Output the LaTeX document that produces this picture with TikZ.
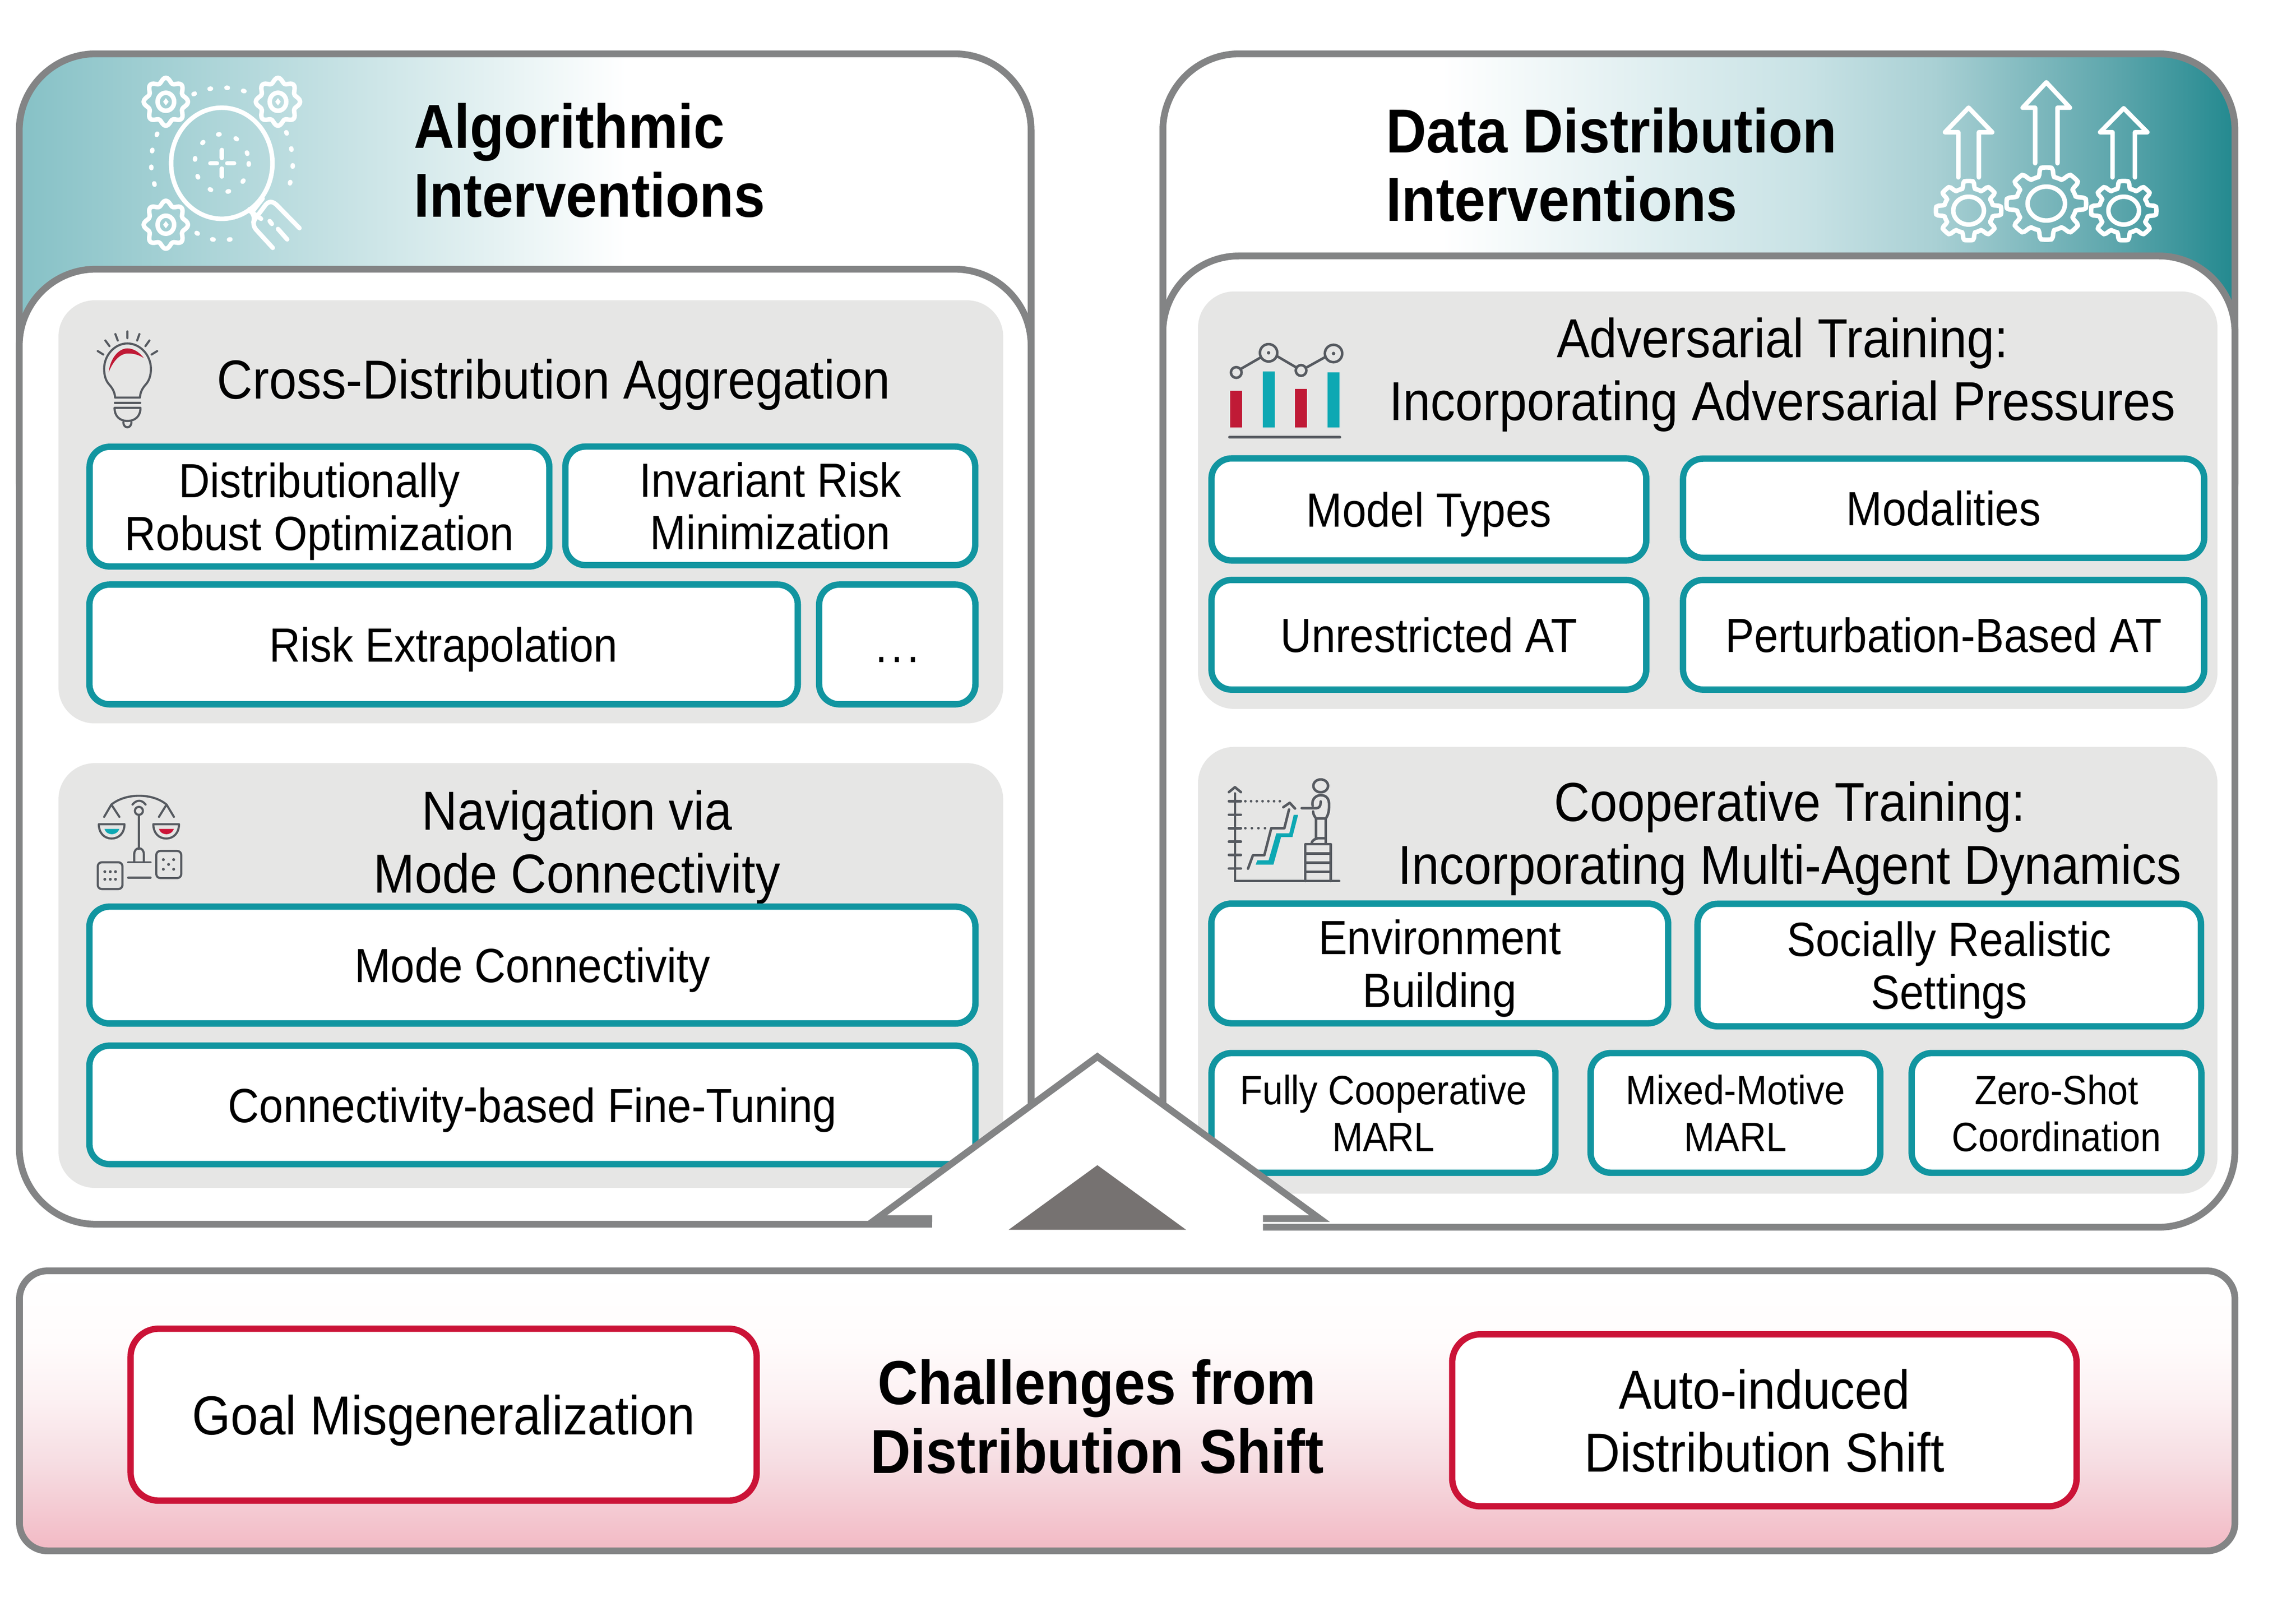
\documentclass[tikz,border=0pt]{standalone}
\usepackage{fontspec}
\setmainfont{Liberation Sans}[FakeStretch=0.9]
\usepackage{tikz}

\definecolor{linegray}{HTML}{838485}
\definecolor{boxgray}{HTML}{E6E6E5}
\definecolor{boxteal}{HTML}{1195A0}
\definecolor{boxred}{HTML}{CB1337}
\definecolor{icongray}{HTML}{565A60}
\definecolor{iconteal}{HTML}{0DA8B3}
\definecolor{iconred}{HTML}{C01A36}
\definecolor{housegray}{HTML}{767271}
\definecolor{headA}{HTML}{86C1C6}
\definecolor{headB}{HTML}{C8E2E5}
\definecolor{headC}{HTML}{A9D0D4}
\definecolor{headD}{HTML}{5BA5AB}
\definecolor{headE}{HTML}{23898F}
\definecolor{footA}{HTML}{F2B9C4}
\definecolor{footB}{HTML}{F6DDE2}
\definecolor{footC}{HTML}{FCF0F2}
\definecolor{footD}{HTML}{FFFCFC}

\pgfdeclarehorizontalshading{headleft}{100bp}{color(0bp)=(headA); color(25bp)=(headA); color(55bp)=(white); color(100bp)=(white)}
\pgfdeclarehorizontalshading{headright}{100bp}{color(0bp)=(white); color(38bp)=(white); color(55bp)=(headB); color(61bp)=(headC); color(69.6bp)=(headD); color(75bp)=(headE); color(100bp)=(headE)}
\pgfdeclareverticalshading{footpink}{100bp}{color(0bp)=(footA); color(25bp)=(footA); color(40.6bp)=(footB); color(51.5bp)=(footC); color(62.5bp)=(footD); color(75bp)=(white); color(100bp)=(white)}

\newcommand{\flowercog}[3]{
  \draw [headicon] plot [domain=0:360, samples=73, smooth] ({#1+72*(.9+.1*cos(8*\x))*cos(\x)},{#2+85*(.9+.1*cos(8*\x))*sin(\x)}) -- cycle;
  \draw [headicon] (#1,#2) circle [x radius=27, y radius=32];
  \fill [white] (#1,#2-13) -- (#1+9,#2) -- (#1,#2+13) -- (#1-9,#2) -- cycle;
}
\newcommand{\toothcog}[3]{
  \draw [headicon] plot [domain=0:360, samples=145] ({#1+#3*(.88+.12*min(1,max(-1,3*cos(8*\x))))*cos(\x)},{#2+#3*(.88+.12*min(1,max(-1,3*cos(8*\x))))*sin(\x)}) -- cycle;
  \draw [headicon] (#1,#2) circle [radius=#3*.47];
}

\begin{document}
\begin{tikzpicture}
\tikzset{ inner sep=0pt, outer sep=0pt,
  panel/.style={draw=linegray, line width=4.8pt, rounded corners=1.9cm},
  graybox/.style={fill=boxgray, rounded corners=.9cm},
  tealbox/.style={draw=boxteal, fill=white, line width=4.5pt, rounded corners=.5cm, align=center, text depth=-3.5pt, font=\fontsize{34}{37.3}\selectfont},
  smallbox/.style={tealbox, font=\fontsize{29}{33.2}\selectfont},
  redbox/.style={draw=boxred, fill=white, line width=4.5pt, rounded corners=.7cm, align=center, text depth=-5pt, font=\fontsize{38.9}{44.5}\selectfont},
  head/.style={align=left, anchor=west, font=\bfseries\fontsize{44}{48.7}\selectfont},
  subhead/.style={align=center, font=\fontsize{38.9}{44.5}\selectfont},
  headicon/.style={draw=white, line width=3.2pt, line cap=round, line join=round},
  icon/.style={draw=icongray, line width=1.5pt, line cap=round, line join=round},
}
\useasboundingbox (0,0) rectangle (57.14,39.87);

% upper panels
\draw [panel, shading=headleft] (0.48,38.53) rectangle (25.66,26);
\draw [panel, shading=headright] (28.94,38.53) rectangle (55.62,26);
\draw [panel, fill=white] (0.48,33.17) rectangle (25.66,9.40);
\draw [panel, fill=white] (28.94,33.50) rectangle (55.62,9.325);

\node [head] (algo) at (10.30,35.88) {Algorithmic\\Interventions};
\node [head] (data) at (34.50,35.77) {Data Distribution\\Interventions};

% gray groups
\node [graybox, minimum width=23.51cm, minimum height=10.53cm] (crossbg) at (13.21,27.13) {};
\node [graybox, minimum width=23.51cm, minimum height=10.57cm] (navbg) at (13.21,15.59) {};
\node [graybox, minimum width=25.37cm, minimum height=10.39cm] (advbg) at (42.50,27.42) {};
\node [graybox, minimum width=25.37cm, minimum height=11.12cm] (coopbg) at (42.50,15.72) {};

\node [subhead] (cross) at (13.78,30.30) {Cross-Distribution Aggregation};
\node [subhead] (nav) at (14.36,18.78) {Navigation via\\Mode Connectivity};
\node [subhead] (adv) at (44.36,30.54) {Adversarial Training:\\Incorporating Adversarial Pressures};
\node [subhead] (coop) at (44.54,19.00) {Cooperative Training:\\Incorporating Multi-Agent Dynamics};

\node [tealbox, minimum width=11.44cm, minimum height=2.98cm] (dro) at (7.95,27.26) {Distributionally\\Robust Optimization};
\node [tealbox, minimum width=10.20cm, minimum height=2.95cm] (irm) at (19.17,27.28) {Invariant Risk\\Minimization};
\node [tealbox, minimum width=17.63cm, minimum height=2.98cm] (risk) at (11.04,23.83) {Risk Extrapolation};
\node [tealbox, minimum width=3.89cm, minimum height=2.98cm] (more) at (22.33,23.83) {\rule{0pt}{.75em}.\hspace{.08em}.\hspace{.08em}.};
\node [tealbox, minimum width=22.05cm, minimum height=2.91cm] (mode) at (13.25,15.85) {Mode Connectivity};
\node [tealbox, minimum width=22.05cm, minimum height=2.95cm] (fine) at (13.25,12.37) {Connectivity-based Fine-Tuning};

\node [tealbox, minimum width=10.82cm, minimum height=2.54cm] (model) at (35.56,27.19) {Model Types};
\node [tealbox, minimum width=12.97cm, minimum height=2.47cm] (modal) at (48.37,27.22) {Modalities};
\node [tealbox, minimum width=10.82cm, minimum height=2.73cm] (unres) at (35.56,24.07) {Unrestricted AT};
\node [tealbox, minimum width=12.97cm, minimum height=2.73cm] (pert) at (48.37,24.07) {Perturbation-Based AT};
\node [tealbox, minimum width=11.37cm, minimum height=2.98cm] (env) at (35.83,15.89) {Environment\\Building};
\node [tealbox, minimum width=12.53cm, minimum height=3.05cm] (social) at (48.51,15.85) {Socially Realistic\\Settings};
\node [smallbox, minimum width=8.56cm, minimum height=2.98cm] (fully) at (34.43,12.17) {Fully Cooperative\\MARL};
\node [smallbox, minimum width=7.21cm, minimum height=2.98cm] (mixed) at (43.19,12.17) {Mixed-Motive\\MARL};
\node [smallbox, minimum width=7.21cm, minimum height=2.98cm] (zero) at (51.18,12.17) {Zero-Shot\\Coordination};

% house
\coordinate (hl) at (21.82,9.54);
\coordinate (hr) at (32.84,9.54);
\coordinate (ha) at (27.31,13.57);
\fill [white] (hl) -- (ha) -- (hr) -- (31.43,9.54) -- (31.43,9.10) -- (23.20,9.10) -- (23.20,9.54) -- cycle;
\draw [draw=linegray, line width=4.8pt] (23.20,9.54) -- (hl) -- (ha) -- (hr) -- (31.43,9.54);
\fill [housegray] (25.10,9.26) -- (27.31,10.87) -- (29.52,9.26) -- cycle;

% lower panel
\draw [draw=linegray, line width=4.8pt, rounded corners=.7cm, shading=footpink] (0.485,8.24) rectangle (55.62,1.27);
\node [redbox, minimum width=15.58cm, minimum height=4.28cm] (goal) at (11.04,4.66) {Goal Misgeneralization};
\node [redbox, minimum width=15.54cm, minimum height=4.28cm] (auto) at (43.91,4.52) {Auto-induced\\Distribution Shift};
\node [align=center, font=\bfseries\fontsize{44}{48.7}\selectfont] (chall) at (27.30,4.61) {Challenges from\\Distribution Shift};

% magnifier
\begin{scope}[shift={(0,39.07)}, x=0.00765cm, y=-0.00702cm]
\draw [headicon] (722,465) circle [x radius=165, y radius=197];
\draw [headicon, dash pattern=on 1pt off 12pt] (722,465) circle [x radius=88, y radius=103];
\draw [headicon] (722,418) -- (722,446) (722,484) -- (722,512) (685,465) -- (706,465) (740,465) -- (762,465);
\draw [headicon, dash pattern=on 1pt off 11pt] (630,220) .. controls (690,190) and (750,190) .. (810,215);
\draw [headicon, dash pattern=on 1pt off 11pt] (512,360) .. controls (485,430) and (485,500) .. (515,575);
\draw [headicon, dash pattern=on 1pt off 11pt] (932,355) .. controls (960,430) and (960,500) .. (933,570);
\draw [headicon, dash pattern=on 1pt off 11pt] (640,712) .. controls (690,745) and (740,745) .. (785,722);
\draw [headicon] (975,695) -- (900,612) .. controls (885,598) and (875,600) .. (865,612) -- (832,660) .. controls (822,675) and (825,690) .. (835,702) -- (888,765);
\draw [headicon] (878,670) -- (885,680) (905,698) -- (935,735) (815,635) -- (850,662) (855,590) -- (825,632) (812,628) .. controls (825,645) and (830,655) .. (825,675);
\flowercog{540}{247}{0}
\flowercog{905}{247}{0}
\flowercog{540}{683}{0}
\end{scope}

% arrows and cogs
\begin{scope}[shift={(45,39.07)}, x=0.00774cm, y=-0.00702cm]
\draw [headicon] (483,515) -- (483,355) -- (440,355) -- (516,268) -- (592,355) -- (549,355) -- (549,515);
\draw [headicon] (730,465) -- (730,268) -- (690,268) -- (766,178) -- (842,268) -- (802,268) -- (802,465);
\draw [headicon] (979,515) -- (979,355) -- (939,355) -- (1015,270) -- (1091,355) -- (1051,355) -- (1051,515);
\toothcog{516}{633}{105}
\toothcog{766}{608}{128}
\toothcog{1015}{633}{105}
\end{scope}

% bulb
\begin{scope}[shift={(1.80,32.07)}, x=0.00333cm, y=-0.00333cm]
\draw [icon] (412,135) -- (412,185) (322,155) -- (340,203) (247,203) -- (278,245) (190,282) -- (232,308) (502,155) -- (485,203) (577,203) -- (547,245) (635,282) -- (593,308);
\draw [icon] (320,630) .. controls (318,590) and (300,560) .. (278,535) .. controls (250,505) and (238,465) .. (238,415) .. controls (238,310) and (320,225) .. (412,225) .. controls (505,225) and (588,310) .. (588,415) .. controls (588,465) and (575,505) .. (547,535) .. controls (525,560) and (508,590) .. (506,630) -- cycle;
\draw [icon] (318,669) -- (508,669);
\draw [icon] (316,707) -- (510,707) .. controls (510,770) and (470,805) .. (412,805) .. controls (355,805) and (316,770) .. (316,707) -- cycle;
\draw [icon] (382,815) .. controls (382,865) and (442,865) .. (442,815);
\fill [iconred] (272,440) .. controls (285,330) and (350,262) .. (412,262) .. controls (465,262) and (510,300) .. (535,335) .. controls (490,305) and (450,300) .. (412,300) .. controls (350,305) and (305,360) .. (272,440) -- cycle;
\end{scope}

% scale and dice
\begin{scope}[shift={(2.00,20.37)}, x=0.00333cm, y=-0.00333cm]
\draw [icon] (232,158) .. controls (340,70) and (540,70) .. (645,158);
\draw [icon] (390,158) .. controls (420,120) and (460,120) .. (488,158);
\draw [icon] (438,205) circle [radius=30];
\draw [icon] (438,238) -- (438,490);
\draw [icon] (178,250) -- (232,158) -- (292,250) (588,250) -- (645,158) -- (700,250);
\foreach \dx in {0,408} {
  \draw [icon] (138+\dx,305) -- (330+\dx,305) .. controls (330+\dx,370) and (290+\dx,412) .. (234+\dx,412) .. controls (178+\dx,412) and (138+\dx,370) .. (138+\dx,305) -- cycle;
}
\fill [iconteal] (180,340) -- (292,340) .. controls (280,370) and (255,380) .. (236,380) .. controls (215,380) and (190,370) .. (180,340) -- cycle;
\fill [boxred] (588,340) -- (700,340) .. controls (688,370) and (663,380) .. (644,380) .. controls (623,380) and (598,370) .. (588,340) -- cycle;
\draw [icon] (403,585) -- (403,530) .. controls (403,470) and (475,470) .. (475,530) -- (475,585);
\draw [icon] (358,590) -- (525,590) (358,705) -- (525,705);
\draw [icon, rounded corners=.1cm] (130,590) rectangle (315,790);
\draw [icon, rounded corners=.1cm] (568,505) rectangle (755,708);
\foreach \a/\b in {183/660,224/660,263/660,183/717,224/717,263/717,621/570,698/570,660/606,621/642,698/642} {
  \fill [icongray] (\a,\b) circle [radius=11];
}
\end{scope}

% bars
\begin{scope}[shift={(30.50,31.67)}, x=0.00333cm, y=-0.00333cm]
\fill [iconred] (35,460) rectangle (125,735);
\fill [iconteal] (277,315) rectangle (367,735);
\fill [iconred] (520,445) rectangle (610,735);
\fill [iconteal] (763,320) rectangle (853,735);
\draw [icon, line width=2pt] (30,807) -- (855,807);
\draw [icon, line width=1.8pt] (80,322) circle [radius=40] (322,175) circle [radius=65] (565,307) circle [radius=40] (808,180) circle [radius=65];
\fill [icongray] (322,175) circle [radius=13] (808,180) circle [radius=13];
\draw [icon, line width=1.8pt] (115,295) -- (262,210) (385,200) -- (530,285) (605,285) -- (745,207);
\end{scope}

% stairs and person
\begin{scope}[shift={(30.50,20.67)}, x=0.00333cm, y=-0.00333cm]
\fill [iconteal] (238,665) -- (322,665) -- (380,463) -- (477,463) -- (510,325) -- (543,325) -- (500,492) -- (415,492) -- (358,698) -- (225,698) -- cycle;
\draw [icon, line width=1.8pt] (70,165) -- (70,820) -- (850,820);
\draw [icon, line width=1.8pt] (25,155) -- (70,118) -- (115,155);
\foreach \b in {223,324,425,525,626,727} {
  \draw [icon, line width=1.8pt] (25,\b) -- (115,\b);
}
\foreach \a in {148,191,234,277,320,363,406} {
  \fill [icongray] (\a,223) circle [radius=10];
}
\foreach \a in {148,197,246,295} {
  \fill [icongray] (\a,425) circle [radius=10];
}
\draw [icon, line width=1.8pt] (168,728) -- (205,627) -- (290,627) -- (342,425) -- (440,425) -- (475,285);
\draw [icon, line width=1.8pt] (432,268) -- (480,235) -- (520,278);
\draw [icon, line width=1.8pt] (712,108) circle [x radius=55, y radius=48];
\draw [icon, line width=1.8pt] (652,258) .. controls (640,205) and (680,178) .. (712,178) .. controls (755,178) and (775,205) .. (775,250) .. controls (775,290) and (770,325) .. (750,352);
\draw [icon, line width=1.8pt] (570,275) -- (680,275) .. controls (700,275) and (712,260) .. (712,225);
\draw [icon, line width=1.8pt] (655,300) .. controls (655,320) and (665,335) .. (677,352) -- (750,352) -- (750,540) (677,352) -- (677,500) -- (750,500) (645,540) .. controls (645,515) and (670,505) .. (690,500);
\draw [icon, line width=1.8pt] (597,820) -- (597,545) -- (788,545) -- (788,820) (597,615) -- (788,615) (597,683) -- (788,683) (597,750) -- (788,750);
\end{scope}

\end{tikzpicture}
\end{document}
